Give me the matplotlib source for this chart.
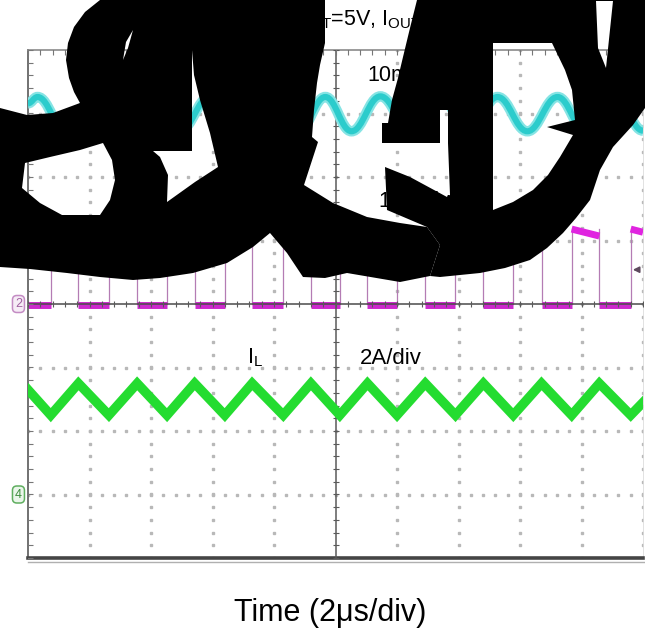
import numpy as np
import matplotlib.pyplot as plt
from matplotlib.path import Path
from matplotlib.patches import PathPatch
from matplotlib.transforms import blended_transform_factory

plt.rcParams['font.family'] = ['Liberation Sans', 'DejaVu Sans']
plt.rcParams['mathtext.default'] = 'regular'

# scope setup
us_per_div = 2.0
ch1_mv_per_div = 10.0   # Vout ripple
ch2_v_per_div = 10.0    # SW node
ch4_a_per_div = 2.0     # inductor current
ch1_pos, ch2_pos, ch4_pos = 3.0, 0.0, -3.0   # ground markers (div)

# switch node edges (us)
sw_rise = [-9.26, -7.37, -5.48, -3.60, -1.70, 0.14, 2.00, 3.90, 5.78, 7.68, 9.60]
sw_fall = [-8.36, -6.45, -4.58, -2.71, -0.80, 1.04, 2.92, 4.81, 6.70, 8.58]
sw_low = 0.0
sw_high_start = 11.8
sw_high_end = 10.7
sw_high_last_end = 11.3
sw_trig = 5.4

# inductor current (A)
il_start, il_end = 3.3, 2.9
il_peak, il_valley = 3.5, 2.5

# output ripple (mV), turning points
vout_t = [-10.0, -9.69, -8.78, -7.87, -6.89, -5.95, -5.04, -4.10, -3.15, -2.18, -1.20,
          -0.33, 0.52, 1.46, 2.44, 3.41, 4.33, 5.27, 6.24, 7.22, 8.13, 9.11, 10.0]
vout_mv = [1.6, 2.6, -2.7, 2.5, -2.7, 2.6, -2.6, 2.6, -2.7, 2.5, -2.7,
           2.6, -2.8, 2.7, -2.6, 2.6, -2.7, 2.6, -2.8, 2.6, -2.7, 2.6, -2.7]

W, H = 645, 644
fig = plt.figure(figsize=(W / 100, H / 100), dpi=100)
ax = fig.add_axes([28 / W, 1 - 558 / H, 615 / W, 508 / H])
ax.set_xlim(-10, 10)
ax.set_ylim(-4, 4)
ax.set_xticks([])
ax.set_yticks([])

# graticule
xminor = np.arange(-10, 10.01, 0.4)
yminor = np.arange(-4, 4.01, 0.2)
for xk in [-8, -6, -4, -2, 2, 4, 6, 8, 10]:
    ax.plot([xk] * len(yminor), yminor, ls='none', marker='s', ms=1.5, color='#b8b8b8', zorder=1)
for yk in [-3, -2, -1, 1, 2, 3]:
    ax.plot(xminor, [yk] * len(xminor), ls='none', marker='s', ms=1.5, color='#b8b8b8', zorder=1)
ax.axvline(0, color='#5a5a5a', lw=1.1, zorder=3)
ax.axhline(0, color='#4a4a4a', lw=1.1, zorder=3)
ax.plot(xminor, [0] * len(xminor), ls='none', marker='|', ms=5, mew=0.8, color='#5a5a5a', zorder=3)
ax.plot([0] * len(yminor), yminor, ls='none', marker='_', ms=5, mew=0.8, color='#5a5a5a', zorder=3)
ax.plot(xminor, [4] * len(xminor), ls='none', marker='|', ms=7, mew=0.8, color='#777777', zorder=3)
ax.plot([-10] * len(yminor), yminor, ls='none', marker='_', ms=7, mew=0.8, color='#777777', zorder=3)
for side, c, w in [('left', '#666666', 1.3), ('top', '#8a8a8a', 1.2),
                   ('bottom', '#454545', 2.6), ('right', '#dddddd', 0.6)]:
    ax.spines[side].set_color(c)
    ax.spines[side].set_linewidth(w)


# SW node (ch2)
def sw_y(v):
    return ch2_pos + v / ch2_v_per_div


lows = [(-10, sw_rise[0])] + [(sw_fall[i], sw_rise[i + 1]) for i in range(len(sw_fall))]
highs = [(sw_rise[i], sw_fall[i], sw_high_start, sw_high_end) for i in range(len(sw_fall))]
highs.append((sw_rise[-1], 10, sw_high_start, sw_high_last_end))
for t in sw_rise + sw_fall:
    ax.plot([t, t], [sw_y(sw_low), sw_y(sw_high_start)], color='#b47cb4', lw=0.9, zorder=2)
for a, b in lows:
    ax.plot([a, b], [sw_y(sw_low) - 0.02, sw_y(sw_low) - 0.02], color='#cc2acc', lw=5.0,
            solid_capstyle='butt', zorder=2)
for a, b, v0, v1 in highs:
    ax.plot([a, b], [sw_y(v0), sw_y(v1)], color='#e024e0', lw=5.0, solid_capstyle='butt', zorder=2)

# trigger marker
trans_b = blended_transform_factory(ax.transAxes, ax.transData)
ax.annotate('', xy=(0.979, sw_y(sw_trig)), xytext=(0.998, sw_y(sw_trig)), xycoords=trans_b,
            arrowprops=dict(arrowstyle='-|>', color='#5e4a5e', lw=1.2, mutation_scale=9), zorder=4)

# inductor current (ch4)
il_t, il_v = [-10.0], [il_start]
for i in range(len(sw_fall)):
    il_t += [sw_rise[i], sw_fall[i]]
    il_v += [il_valley, il_peak]
il_t += [sw_rise[-1], 10.0]
il_v += [il_valley, il_end]
ax.plot(il_t, [ch4_pos + v / ch4_a_per_div for v in il_v], color='#24dc30', lw=6.8,
        solid_joinstyle='miter', zorder=4)

# output ripple (ch1), drawn as a smooth curve through the turning points
vy = [ch1_pos + v / ch1_mv_per_div for v in vout_mv]
verts, codes = [(vout_t[0], vy[0])], [Path.MOVETO]
for i in range(1, len(vout_t)):
    dt = vout_t[i] - vout_t[i - 1]
    verts += [(vout_t[i - 1] + 0.4 * dt, vy[i - 1]), (vout_t[i] - 0.4 * dt, vy[i]), (vout_t[i], vy[i])]
    codes += [Path.CURVE4] * 3
ripple = Path(verts, codes)
ax.add_patch(PathPatch(ripple, fill=False, edgecolor='#86e4e4', lw=7.5, zorder=4))
ax.add_patch(PathPatch(ripple, fill=False, edgecolor='#2ccccc', lw=4.4, zorder=4))

# channel ground markers
for pos, num, ec, fc, tc in [(ch2_pos, '2', '#c48cc4', '#f6ecf6', '#a060a0'),
                             (ch4_pos, '4', '#5fae5f', '#eaf6ea', '#3c8c3c')]:
    ax.text(-0.0155, pos, num, transform=trans_b, ha='center', va='center', fontsize=9,
            color=tc, clip_on=False,
            bbox=dict(boxstyle='round,pad=0.2,rounding_size=0.35', fc=fc, ec=ec, lw=1.1))

# overlay in pixel coordinates: labels and the black strokes over the screenshot
ov = fig.add_axes([0, 0, 1, 1])
ov.set_xlim(0, W)
ov.set_ylim(H, 0)
ov.axis('off')
ov.plot([28, 645], [561.5, 561.5], color='#b0b0b0', lw=1.0)

ov.text(256, 20, 'V$_{IN}$=12V, ', ha='right', va='center', fontsize=15.5)
ov.text(284, 20, 'V$_{OUT}$=5V, I$_{OUT}$=3A', ha='left', va='center', fontsize=15.5)
ov.text(250, 75, 'V$_{OUT}$', ha='left', va='center', fontsize=15.5)
ov.text(367, 75, '10mV/div', ha='left', va='center', fontsize=15.5)
ov.text(250, 201, 'SW', ha='left', va='center', fontsize=15.5)
ov.text(378, 201, '10V/div', ha='left', va='center', fontsize=15.5)
ov.text(247, 358, 'I$_{L}$', ha='left', va='center', fontsize=15.5)
ov.text(360, 358, '2A/div', ha='left', va='center', fontsize=16)
ov.text(330, 613, 'Time (2\u03bcs/div)', ha='center', va='center', fontsize=22)

blob_a = [(0, 108), (27, 115), (53, 113), (80, 103), (74, 92), (69, 78), (66, 60), (68, 43),
          (74, 27), (85, 12), (100, 0), (325, 0), (325, 43), (320, 65), (317, 83), (314, 110),
          (312, 137), (318, 142), (304, 185), (333, 203), (367, 217), (400, 223), (427, 227),
          (440, 245), (430, 276), (400, 282), (347, 273), (325, 278), (303, 277), (287, 253),
          (270, 233), (253, 247), (227, 263), (193, 273), (160, 278), (133, 280), (100, 277),
          (67, 273), (30, 269), (0, 267)]
holes_a = [[(22, 188), (25, 163), (50, 157), (80, 150), (103, 143), (112, 160), (115, 180),
            (110, 200), (100, 215), (62, 215), (40, 203)],
           [(192, 50), (194, 75), (200, 100), (210, 133), (218, 167), (195, 182), (167, 202),
            (168, 175), (160, 157), (153, 151), (192, 151)],
           [(133, 30), (126, 42), (123, 60), (128, 48)]]
blob_b = [(417, 0), (645, 0), (645, 108), (633, 125), (613, 147), (600, 170), (590, 200),
          (576, 218), (563, 233), (547, 248), (530, 260), (505, 268), (480, 273), (440, 277),
          (430, 276), (440, 245), (427, 227), (387, 210), (385, 167), (410, 177), (447, 197),
          (450, 195), (448, 143), (448, 110), (440, 110), (440, 143), (382, 143), (382, 123),
          (388, 123), (392, 100), (398, 78), (403, 57), (410, 28)]
holes_b = [[(493, 43), (552, 43), (565, 70), (572, 90), (575, 120), (547, 127), (573, 135),
            (560, 157), (548, 175), (533, 190), (513, 202), (493, 210)],
           [(596, 1), (613, 1), (606, 68), (598, 48)]]


def ring(pts, ccw):
    p = np.asarray(pts, float)
    area = 0.5 * np.sum(p[:, 0] * np.roll(p[:, 1], -1) - np.roll(p[:, 0], -1) * p[:, 1])
    if (area > 0) != ccw:
        p = p[::-1]
    return list(map(tuple, p)) + [tuple(p[0])], [Path.MOVETO] + [Path.LINETO] * (len(p) - 1) + [Path.CLOSEPOLY]


for outer, holes in [(blob_a, holes_a), (blob_b, holes_b)]:
    v, c = ring(outer, True)
    for h in holes:
        hv, hc = ring(h, False)
        v += hv
        c += hc
    ov.add_patch(PathPatch(Path(v, c), facecolor='black', lw=0, zorder=10))

fig.savefig('out.png', dpi=100)
